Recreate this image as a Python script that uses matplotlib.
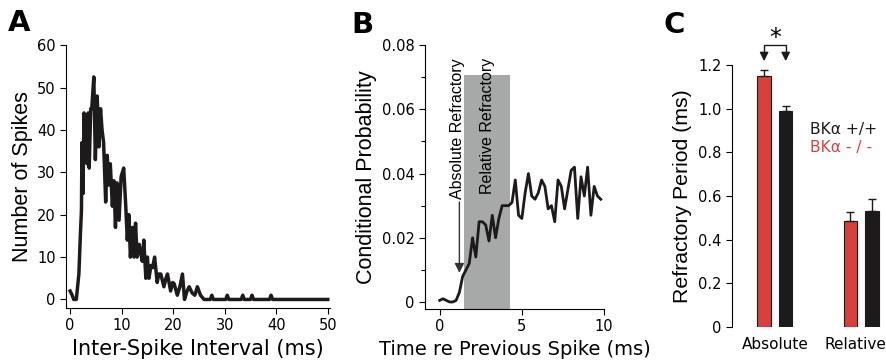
import matplotlib
matplotlib.use("Agg")
import matplotlib.pyplot as plt

plt.rcParams['font.family'] = ['DejaVu Sans']

# Panel A: inter-spike interval histogram
isi_ms = [0.0, 0.4, 0.7, 1.2, 1.7, 2.0, 2.2, 2.3, 2.5, 2.7, 2.9, 3.0, 3.3, 3.5, 3.7, 4.0,
          4.2, 4.6, 4.9, 5.25, 5.6, 5.9, 6.2, 6.5, 6.9, 7.2, 7.5, 7.8, 8.2, 8.5, 8.8, 9.1,
          9.5, 9.9, 10.4, 10.8, 11.1, 11.4, 11.7, 12.1, 12.4, 12.7, 13.0, 13.4, 13.7, 14.0,
          14.3, 14.7, 15.0, 15.3, 15.7, 16.0, 16.4, 16.9, 17.2, 17.6, 18.2, 18.6, 18.9, 19.5,
          19.9, 20.2, 20.8, 21.3, 21.8, 22.2, 22.7, 23.1, 23.7, 24.2, 24.7, 25.3, 26.0,
          27.2, 27.5, 27.8, 30.2, 30.5, 30.8, 33.2, 33.5, 33.8, 35.0, 35.3, 35.6, 38.7,
          39.0, 39.3, 50.0]
isi_count = [2, 1, 0, 0, 6, 15.5, 21, 37, 25, 44, 37, 43, 32, 44, 31, 45,
             45, 52.5, 33, 48, 36, 45, 40, 37, 23, 34, 27, 32, 22, 28, 17, 27.5,
             18.7, 29, 31, 22, 14, 20, 10, 17, 10, 18, 10, 13, 11, 9,
             14, 5, 10, 5, 8, 7.5, 10, 4, 6, 6, 3, 5, 6, 2,
             4, 3.7, 1, 3, 6, 0, 2, 3, 1.5, 1, 3, 1, 0,
             0, 1, 0, 0, 1, 0, 0, 1, 0, 0, 1, 0, 0,
             1, 0, 0]

# Panel B: conditional probability vs time since previous spike
t_prev = [0.0, 0.2, 0.4, 0.6, 0.8, 1.0, 1.2, 1.4, 1.6, 1.8, 2.0, 2.2, 2.4, 2.6, 2.8,
          3.0, 3.2, 3.4, 3.6, 3.8, 4.0, 4.2, 4.4, 4.6, 4.8, 5.0, 5.2, 5.4, 5.6, 5.8,
          6.0, 6.2, 6.4, 6.6, 6.8, 7.0, 7.2, 7.4, 7.6, 7.8, 8.0, 8.2, 8.4, 8.6, 8.8,
          9.0, 9.2, 9.4, 9.6, 9.8]
cond_prob = [0.0005, 0.001, 0.0005, 0.0, 0.0, 0.0005, 0.003, 0.008, 0.010, 0.012,
             0.020, 0.014, 0.025, 0.025, 0.024, 0.019, 0.027, 0.020, 0.026, 0.030,
             0.030, 0.030, 0.031, 0.038, 0.027, 0.026, 0.034, 0.040, 0.033, 0.032,
             0.034, 0.038, 0.036, 0.029, 0.030, 0.025, 0.038, 0.036, 0.029, 0.035,
             0.041, 0.042, 0.026, 0.039, 0.033, 0.042, 0.027, 0.036, 0.033, 0.032]
relative_window = (1.5, 4.3)

# Panel C: refractory periods
groups = ['Absolute', 'Relative']
ko_mean = [1.15, 0.487]
ko_err = [0.025, 0.038]
wt_mean = [0.99, 0.53]
wt_err = [0.02, 0.057]

red = '#d8403b'
dark = '#1c1a1a'
vfont = 'Liberation Sans'   # rotated labels

fig = plt.figure(figsize=(8.87, 3.64), dpi=100)

# ---- A ----
axA = fig.add_axes([0.0744, 0.154, 0.298, 0.722])
axA.plot(isi_ms, isi_count, color=dark, lw=2.5)
axA.set_xlim(-0.8, 50.5)
axA.set_ylim(-2, 60)
axA.set_xticks([0, 10, 20, 30, 40, 50])
axA.set_yticks([0, 10, 20, 30, 40, 50, 60])
axA.set_xlabel('Inter-Spike Interval (ms)', fontsize=15, labelpad=4)
axA.set_ylabel('Number of Spikes', fontsize=15.5, family=vfont, labelpad=3)

# ---- B ----
axB = fig.add_axes([0.479, 0.151, 0.202, 0.725])
axB.axvspan(relative_window[0], relative_window[1], ymin=0.0, ymax=0.887,
            color='#a7a9a8', lw=0)
axB.plot(t_prev, cond_prob, color=dark, lw=2.0)
axB.annotate('', xy=(1.2, 0.0082), xytext=(1.2, 0.032),
             arrowprops=dict(arrowstyle='-|>', color='#333333', lw=1.0,
                             mutation_scale=14))
axB.text(1.1, 0.032, 'Absolute Refractory', rotation=90, ha='center', va='bottom',
         fontsize=11.5, family=vfont)
axB.text(2.9, 0.0335, 'Relative Refractory', rotation=90, ha='center', va='bottom',
         fontsize=11.5, family=vfont)
axB.set_xlim(-0.9, 10)
axB.set_ylim(-0.0022, 0.08)
axB.set_xticks([0, 5, 10])
axB.set_yticks([0, 0.02, 0.04, 0.06, 0.08])
axB.set_yticks([0.01, 0.03, 0.05, 0.07], minor=True)
axB.set_yticklabels(['0', '0.02', '0.04', '0.06', '0.08'])
axB.set_xlabel('Time re Previous Spike (ms)', fontsize=14, labelpad=4)
axB.set_ylabel('Conditional Probability', fontsize=15.5, family=vfont, labelpad=3)

# ---- C ----
axC = fig.add_axes([0.825, 0.1016, 0.175, 0.7198])
xpos_ko = [0, 4]
xpos_wt = [1, 5]
bw = 0.63
axC.bar(xpos_ko, ko_mean, width=bw, color=red, edgecolor=dark, lw=0.8)
axC.bar(xpos_wt, wt_mean, width=bw, color=dark, edgecolor=dark, lw=0.8)
axC.errorbar(xpos_ko, ko_mean, yerr=[[0, 0], ko_err], fmt='none', ecolor=dark,
             elinewidth=1.0, capsize=3, capthick=1.0)
axC.errorbar(xpos_wt, wt_mean, yerr=[[0, 0], wt_err], fmt='none', ecolor=dark,
             elinewidth=1.0, capsize=3, capthick=1.0)
# significance bracket
axC.plot([0, 0, 1, 1], [1.235, 1.29, 1.29, 1.235], color=dark, lw=1.0, clip_on=False)
for xb in (0, 1):
    axC.annotate('', xy=(xb, 1.205), xytext=(xb, 1.25), annotation_clip=False,
                 arrowprops=dict(arrowstyle='-|>', color=dark, lw=1.0,
                                 mutation_scale=13))
axC.text(0.5, 1.325, '*', ha='center', va='center', fontsize=17, clip_on=False)
axC.text(2.15, 0.905, 'BK\u03b1 +/+', color=dark, fontsize=11.2, va='center')
axC.text(2.15, 0.82, 'BK\u03b1 - / -', color=red, fontsize=11.2, va='center')
axC.set_xlim(-1.5, 5.7)
axC.set_ylim(0, 1.2)
axC.set_yticks([0, 0.2, 0.4, 0.6, 0.8, 1.0, 1.2])
axC.set_yticklabels(['0', '0.2', '0.4', '0.6', '0.8', '1.0', '1.2'])
axC.set_xticks([0.5, 4.25])
axC.set_xticklabels(groups)
axC.spines['bottom'].set_visible(False)
axC.set_ylabel('Refractory Period (ms)', fontsize=15.3, family=vfont, labelpad=4)

for ax in (axA, axB, axC):
    ax.spines['top'].set_visible(False)
    ax.spines['right'].set_visible(False)
    ax.tick_params(labelsize=10.5, direction='out', length=4, width=0.8)
    ax.tick_params(which='minor', direction='out', length=3, width=0.8)
    for s in ax.spines.values():
        s.set_linewidth(0.8)
axC.tick_params(axis='x', length=0, pad=7, labelsize=11)

fig.text(0.009, 0.975, 'A', fontsize=21, fontweight='bold', va='top')
fig.text(0.396, 0.97, 'B', fontsize=21, fontweight='bold', va='top')
fig.text(0.748, 0.97, 'C', fontsize=21, fontweight='bold', va='top')

fig.savefig('out.png', dpi=100)
